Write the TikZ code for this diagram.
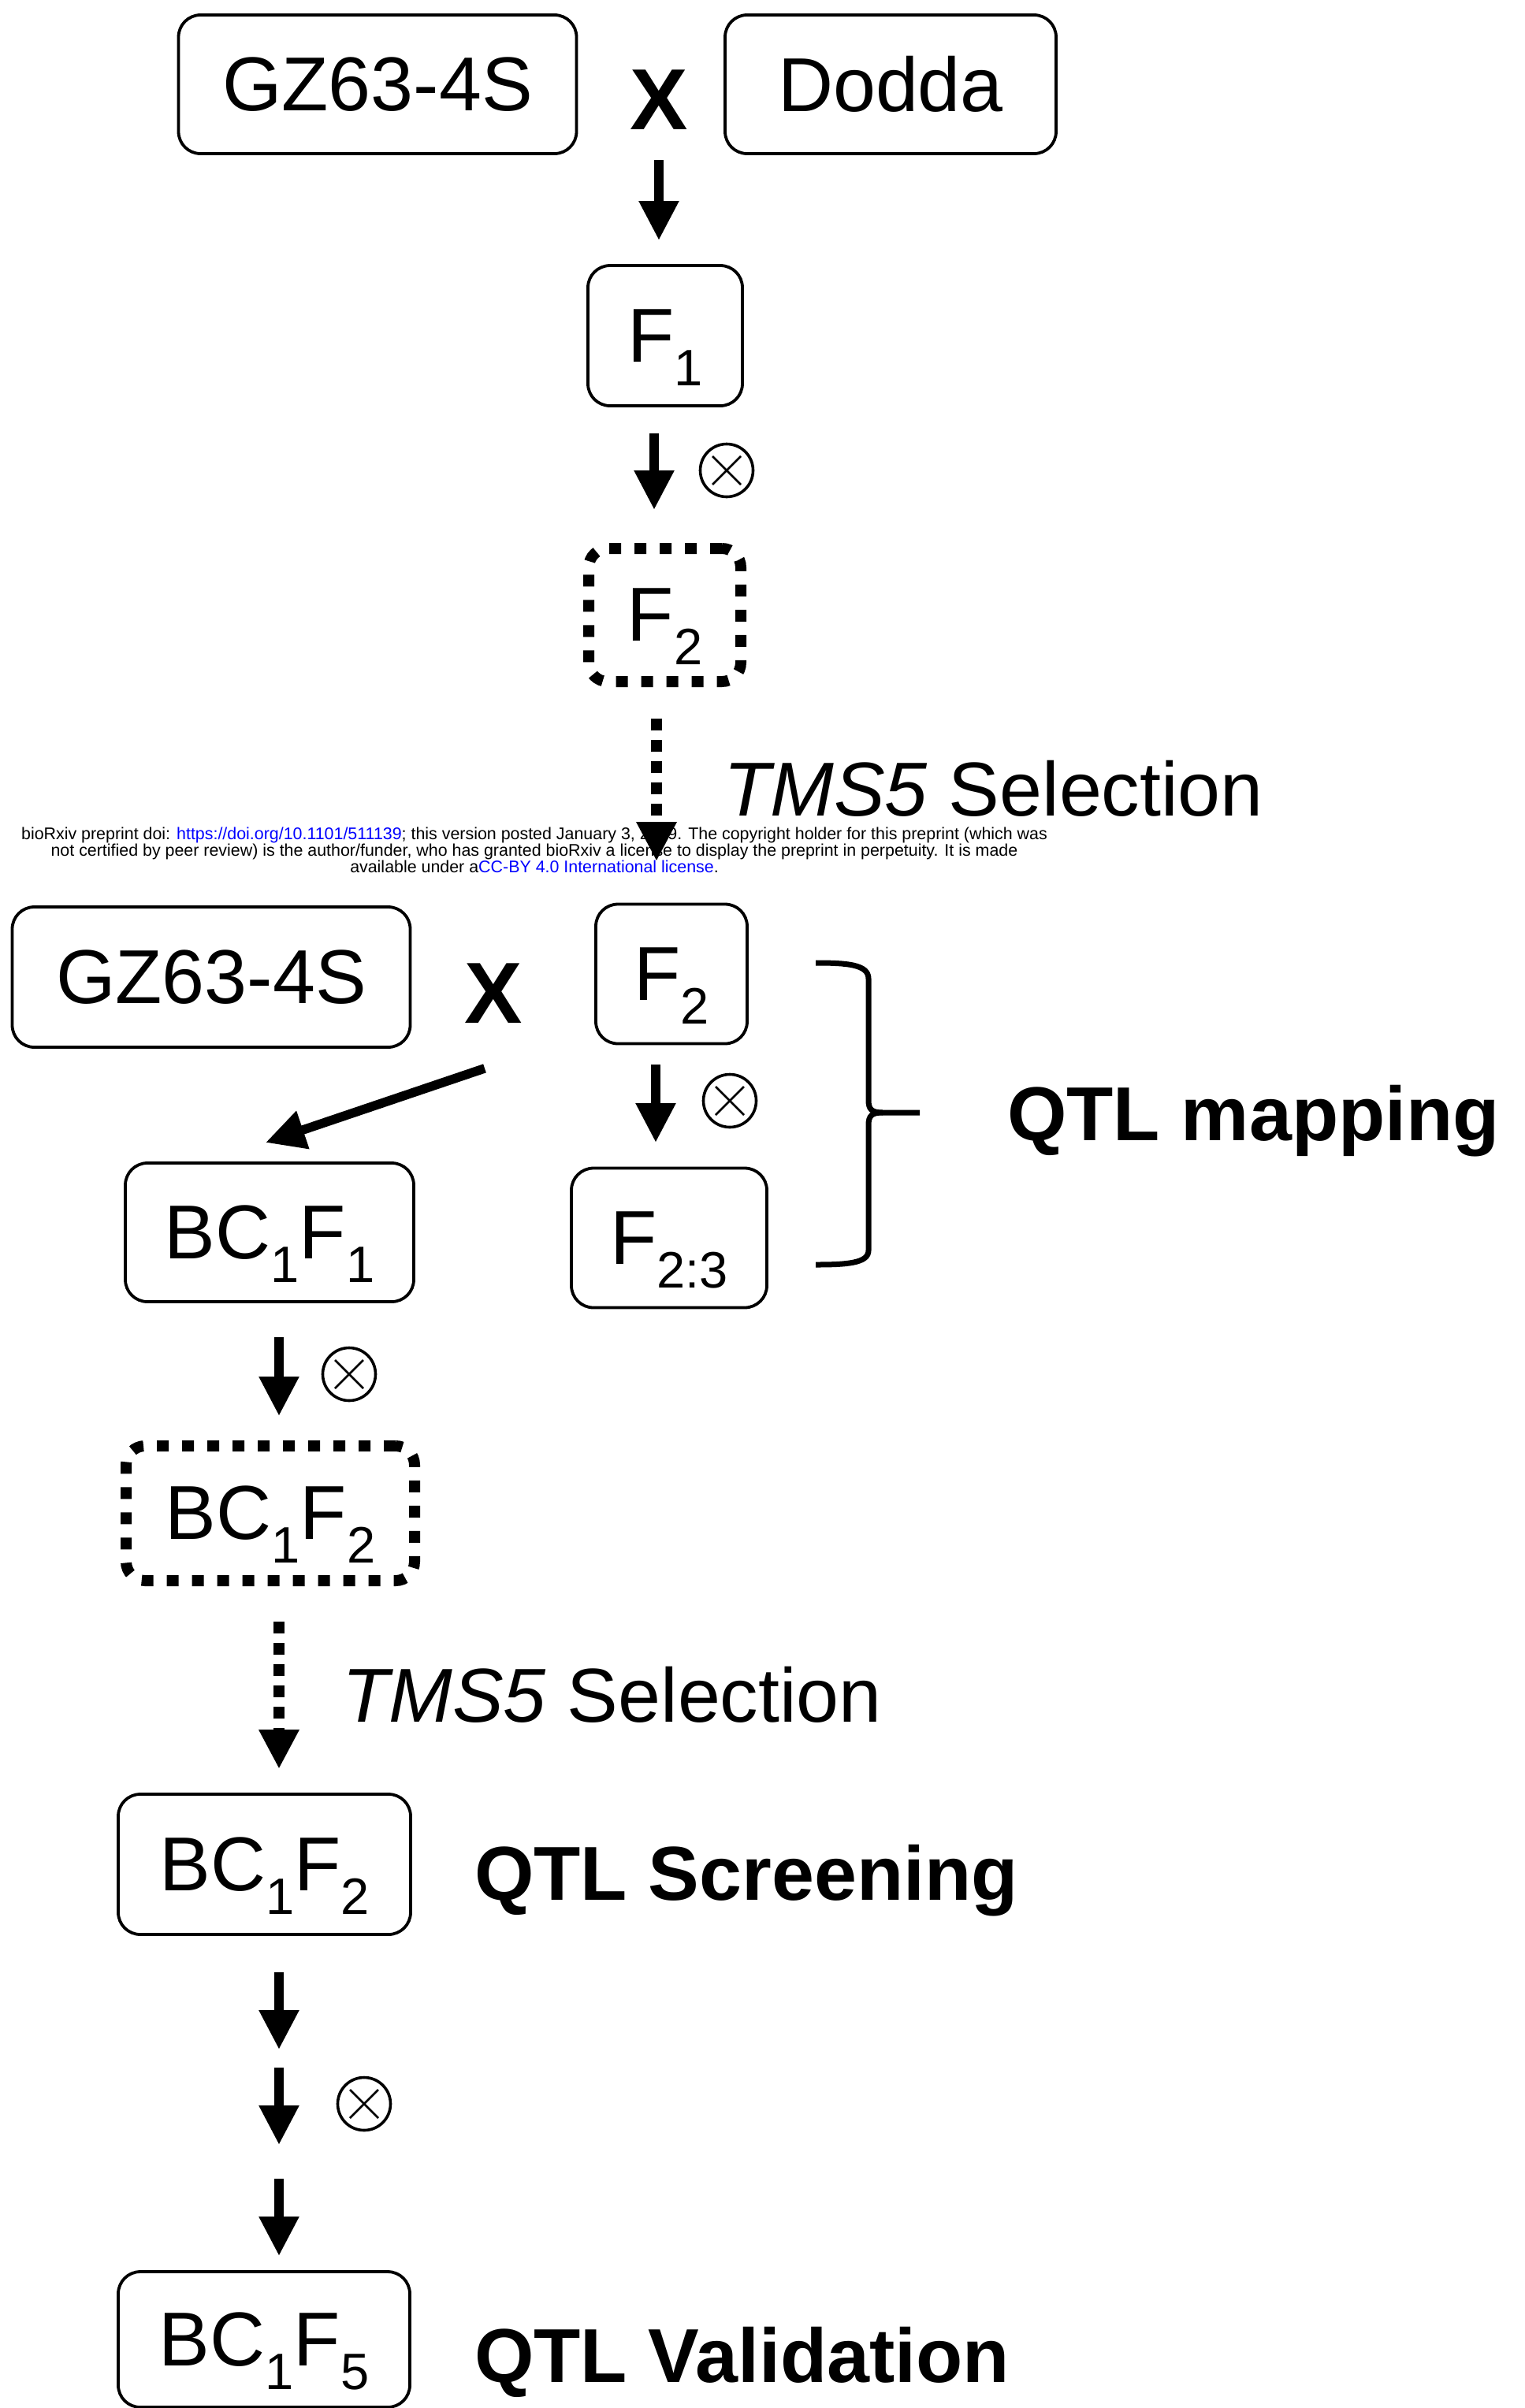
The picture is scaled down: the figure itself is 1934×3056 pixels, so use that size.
\documentclass[tikz,border=0pt]{standalone}
\usepackage{fontspec}
\setmainfont{Liberation Sans}
\usetikzlibrary{arrows.meta,calc}
\definecolor{linkblue}{RGB}{0,0,255}
\newcommand\lowsub[1]{\raisebox{-15pt}[0pt][0pt]{\fontsize{32.5}{32.5}\selectfont #1}}
\newcommand\mainsize{\fontsize{48.5}{58}\selectfont}
\begin{document}
\begin{tikzpicture}[x=0.5pt,y=-0.5pt,
  every node/.style={outer sep=0pt, inner sep=0pt},
  box/.style={draw, line width=1.9pt, rounded corners=14pt, font=\mainsize},
  dbox/.style={draw, line width=7pt, dash pattern=on 7.5pt off 8.5pt, rounded corners=12pt, font=\mainsize},
  crossx/.style={font=\fontsize{55}{60}\selectfont\bfseries},
  lab/.style={anchor=base west, font=\mainsize},
  blab/.style={anchor=base west, font=\mainsize\bfseries},
  foot/.style={anchor=base, font=\fontsize{10.7}{11}\selectfont},
  arr/.style={line width=5.8pt, -{Triangle[length=25pt,width=24pt]}},
  darr/.style={line width=7pt, dash pattern=on 7.5pt off 6pt, -{Triangle[length=25pt,width=24pt]}},
  otimes/.style={circle, draw, line width=1.8pt, minimum size=33.5pt,
    path picture={
      \draw[line width=1.3pt] ([shift={(-9pt,-9pt)}]path picture bounding box.center) -- ([shift={(9pt,9pt)}]path picture bounding box.center);
      \draw[line width=1.3pt] ([shift={(-9pt,9pt)}]path picture bounding box.center) -- ([shift={(9pt,-9pt)}]path picture bounding box.center);
    }},
]
\useasboundingbox (0,0) rectangle (1934,3056);

% ---------- top cross ----------
\node[box, minimum width=252.5pt, minimum height=88pt] (gzA) at (479,107) {GZ63-4S};
\node[crossx] (X1) at (836,127) {X};
\node[box, minimum width=210pt, minimum height=88pt] (dodda) at (1130,107) {Dodda};
\node[box, minimum width=98pt, minimum height=89pt] (F1) at (844,426) {F\lowsub{1}};
\node[otimes] (ot1) at (922,597) {};
\node[dbox, minimum width=96.5pt, minimum height=84.5pt] (F2dot) at (843.5,780.5) {F\lowsub{2}};
\node[lab] (sel1) at (918,1035) {\textit{TMS5} Selection};

% ---------- footer ----------
\node[foot] (foot1) at (678,1065) {bioRxiv preprint doi: \textcolor{linkblue}{https://doi.org/10.1101/511139}; this version posted January 3, 2019. The copyright holder for this preprint (which was};
\node[foot] (foot2) at (678,1086) {not certified by peer review) is the author/funder, who has granted bioRxiv a license to display the preprint in perpetuity. It is made};
\node[foot] (foot3) at (678,1107) {available under a\textcolor{linkblue}{CC-BY 4.0 International license}.};

% ---------- second cross ----------
\node[box, minimum width=252.5pt, minimum height=89pt] (gzB) at (268,1240) {GZ63-4S};
\node[crossx] (X2) at (626,1261) {X};
\node[box, minimum width=96pt, minimum height=88.5pt] (F2b) at (852,1236) {F\lowsub{2}};
\node[otimes] (ot2) at (926,1397) {};
\node[box, minimum width=124pt, minimum height=88.5pt] (F23) at (849,1571) {F\lowsub{2:3}};
\node[box, minimum width=183pt, minimum height=88pt] (BC1F1) at (342,1564) {BC\lowsub{1}F\lowsub{1}};
\node[blab] (qmap) at (1278,1447) {QTL mapping};
\draw[line width=3.5pt] (1035,1222) .. controls (1075,1222) and (1102,1224) .. (1102,1242) -- (1102,1396) .. controls (1102,1408) and (1106,1412) .. (1120,1412) -- (1167,1412);
\draw[line width=3.5pt] (1120,1412) .. controls (1106,1412) and (1102,1416) .. (1102,1428) -- (1102,1587) .. controls (1102,1603) and (1075,1605) .. (1035,1605);

% ---------- lower column ----------
\node[otimes] (ot3) at (443,1744) {};
\node[dbox, minimum width=183pt, minimum height=85.5pt] (BC1F2dot) at (343,1920.5) {BC\lowsub{1}F\lowsub{2}};
\node[lab] (sel2) at (434,2185) {\textit{TMS5} Selection};
\node[box, minimum width=185.5pt, minimum height=89pt] (BC1F2) at (335.5,2366) {BC\lowsub{1}F\lowsub{2}};
\node[blab] (qscr) at (602,2411) {QTL Screening};
\node[otimes] (ot4) at (462,2670) {};
\node[box, minimum width=185pt, minimum height=86pt] (BC1F5) at (335,2969) {BC\lowsub{1}F\lowsub{5}};
\node[blab] (qval) at (602,3023) {QTL Validation};

% ---------- connectors ----------
\draw[arr, shorten <=19pt, shorten >=16pt] (X1.south) -- (X1.south |- F1.north);
\draw[arr, shorten <=17.5pt, shorten >=24.5pt] ($(F1.south)+(-14,0)$) -- ($(F1.south |- F2dot.north)+(-14,0)$);
\draw[darr, shorten <=23.5pt, shorten >=27.25pt] ($(F2dot.south)+(-10.5,0)$) -- ($(F2dot.south |- F2b.north)+(-10.5,0)$);
\draw[arr] ($(X2.south)+(-11,57)$) -- ($(BC1F1.north)+(-5,-26)$);
\draw[arr, shorten <=13.25pt, shorten >=16.25pt] ($(F2b.south)+(-20,0)$) -- ($(F2b.south |- F23.north)+(-20,0)$);
\draw[arr, shorten <=22.5pt, shorten >=19pt] ($(BC1F1.south)+(12,0)$) -- ($(BC1F1.south |- BC1F2dot.north)+(12,0)$);
\draw[darr, shorten <=26pt, shorten >=16pt] ($(BC1F2dot.south)+(11,0)$) -- ($(BC1F2dot.south |- BC1F2.north)+(11,0)$);
\coordinate (k1) at ($(BC1F2.south)+(18.5,0)$);
\coordinate (k2) at ($(BC1F5.north)+(19,0)$);
\draw[arr] ($(k1)+(0,48)$) -- ($(k1)+(0,146)$);
\draw[arr] ($(k1)+(0,169)$) -- ($(k1)+(0,267)$);
\draw[arr] ($(k2)+(0,-118)$) -- ($(k2)+(0,-20)$);
\end{tikzpicture}
\end{document}
